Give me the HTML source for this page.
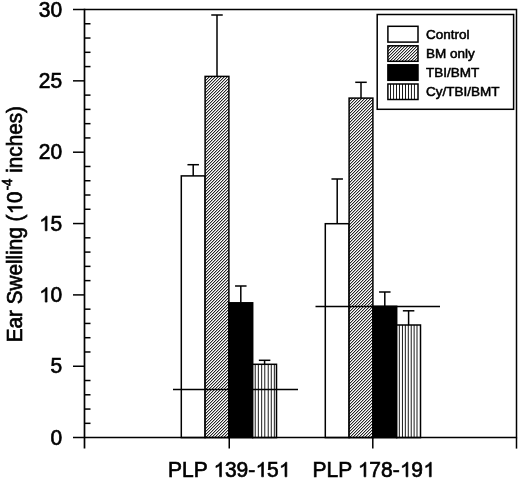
<!DOCTYPE html>
<html><head><meta charset="utf-8"><style>
html,body{margin:0;padding:0;background:#fff;}
svg{display:block;will-change:transform;}
text{font-family:"Liberation Sans",sans-serif;fill:#000;stroke:#000;stroke-width:0.65px;}
.tk{font-size:21px;}
.lg{font-size:13.5px;stroke-width:0.55px;}
.h1{fill:none;stroke:none;}
.p1{fill:#000;stroke:#000;stroke-width:0.65px;}
</style></head><body>
<svg width="520" height="480" viewBox="0 0 520 480">
<defs>
<pattern id="hp" patternUnits="userSpaceOnUse" x="0" y="0" width="3" height="3"><rect width="3" height="3" fill="#fff"/><path d="M0,0h1v1h-1zM2,1h1v1h-1zM1,2h1v1h-1z" fill="rgb(40,40,40)"/><path d="M1,0h1v1h-1zM0,1h1v1h-1zM2,2h1v1h-1z" fill="rgb(180,180,180)"/></pattern>
<clipPath id="c4"><rect x="252.70" y="364.30" width="23.80" height="73.30"/></clipPath><clipPath id="c8"><rect x="396.70" y="325.00" width="23.80" height="112.60"/></clipPath><clipPath id="c12"><rect x="387.90" y="84.00" width="30.10" height="15.50"/></clipPath>
</defs>
<path d="M193.20,175.9 V164.7" stroke="#000" stroke-width="1.5"/>
<path d="M187.45,164.7 H198.95" stroke="#000" stroke-width="1.5"/>
<rect x="181.30" y="175.9" width="23.8" height="261.70" fill="#fff"/>
<rect x="181.30" y="175.9" width="23.8" height="261.70" fill="none" stroke="#000" stroke-width="1.5"/>
<path d="M217.00,76.4 V15.0" stroke="#000" stroke-width="1.5"/>
<path d="M211.25,15.0 H222.75" stroke="#000" stroke-width="1.5"/>
<rect x="205.10" y="76.40" width="23.80" height="361.20" fill="url(#hp)"/>
<rect x="205.10" y="76.4" width="23.8" height="361.20" fill="none" stroke="#000" stroke-width="1.5"/>
<path d="M240.80,302.8 V286.0" stroke="#000" stroke-width="1.5"/>
<path d="M235.05,286.0 H246.55" stroke="#000" stroke-width="1.5"/>
<rect x="228.90" y="302.8" width="23.8" height="134.80" fill="#000"/>
<rect x="228.90" y="302.8" width="23.8" height="134.80" fill="none" stroke="#000" stroke-width="1.5"/>
<path d="M264.60,364.3 V360.3" stroke="#000" stroke-width="1.5"/>
<path d="M258.85,360.3 H270.35" stroke="#000" stroke-width="1.5"/>
<rect x="252.70" y="364.30" width="23.80" height="73.30" fill="#fff"/>
<path clip-path="url(#c4)" d="M254.75,364.30h0.9v73.30h-0.9ZM257.85,364.30h0.9v73.30h-0.9ZM261.25,364.30h0.9v73.30h-0.9ZM264.35,364.30h0.9v73.30h-0.9ZM267.75,364.30h0.9v73.30h-0.9ZM270.80,364.30h0.9v73.30h-0.9ZM273.85,364.30h0.9v73.30h-0.9Z" fill="#000"/>
<rect x="252.70" y="364.3" width="23.8" height="73.30" fill="none" stroke="#000" stroke-width="1.5"/>
<path d="M337.20,223.7 V179.0" stroke="#000" stroke-width="1.5"/>
<path d="M331.45,179.0 H342.95" stroke="#000" stroke-width="1.5"/>
<rect x="325.30" y="223.7" width="23.8" height="213.90" fill="#fff"/>
<rect x="325.30" y="223.7" width="23.8" height="213.90" fill="none" stroke="#000" stroke-width="1.5"/>
<path d="M361.00,98.1 V82.3" stroke="#000" stroke-width="1.5"/>
<path d="M355.25,82.3 H366.75" stroke="#000" stroke-width="1.5"/>
<rect x="349.10" y="98.10" width="23.80" height="339.50" fill="url(#hp)"/>
<rect x="349.10" y="98.1" width="23.8" height="339.50" fill="none" stroke="#000" stroke-width="1.5"/>
<path d="M384.80,306.3 V292.0" stroke="#000" stroke-width="1.5"/>
<path d="M379.05,292.0 H390.55" stroke="#000" stroke-width="1.5"/>
<rect x="372.90" y="306.3" width="23.8" height="131.30" fill="#000"/>
<rect x="372.90" y="306.3" width="23.8" height="131.30" fill="none" stroke="#000" stroke-width="1.5"/>
<path d="M408.60,325.0 V310.8" stroke="#000" stroke-width="1.5"/>
<path d="M402.85,310.8 H414.35" stroke="#000" stroke-width="1.5"/>
<rect x="396.70" y="325.00" width="23.80" height="112.60" fill="#fff"/>
<path clip-path="url(#c8)" d="M398.85,325.00h0.9v112.60h-0.9ZM401.95,325.00h0.9v112.60h-0.9ZM404.85,325.00h0.9v112.60h-0.9ZM407.80,325.00h0.9v112.60h-0.9ZM410.75,325.00h0.9v112.60h-0.9ZM413.65,325.00h0.9v112.60h-0.9ZM416.55,325.00h0.9v112.60h-0.9Z" fill="#000"/>
<rect x="396.70" y="325.0" width="23.8" height="112.60" fill="none" stroke="#000" stroke-width="1.5"/>
<path d="M173,389.5 H298" stroke="#000" stroke-width="1.5"/>
<path d="M315.5,306.5 H440" stroke="#000" stroke-width="1.5"/>
<path d="M73.0,9.5 H516.5 V437.6 H73.0" fill="none" stroke="#000" stroke-width="1.5"/>
<path d="M84.5,8.75 V448.6" fill="none" stroke="#000" stroke-width="1.7"/>
<path d="M73.0,366.25 H84.5" stroke="#000" stroke-width="1.5"/>
<path d="M73.0,294.90 H84.5" stroke="#000" stroke-width="1.5"/>
<path d="M73.0,223.55 H84.5" stroke="#000" stroke-width="1.5"/>
<path d="M73.0,152.20 H84.5" stroke="#000" stroke-width="1.5"/>
<path d="M73.0,80.85 H84.5" stroke="#000" stroke-width="1.5"/>
<path d="M84.5,423.33 H90.5" stroke="#000" stroke-width="1.5"/>
<path d="M84.5,409.06 H90.5" stroke="#000" stroke-width="1.5"/>
<path d="M84.5,394.79 H90.5" stroke="#000" stroke-width="1.5"/>
<path d="M84.5,380.52 H90.5" stroke="#000" stroke-width="1.5"/>
<path d="M84.5,351.98 H90.5" stroke="#000" stroke-width="1.5"/>
<path d="M84.5,337.71 H90.5" stroke="#000" stroke-width="1.5"/>
<path d="M84.5,323.44 H90.5" stroke="#000" stroke-width="1.5"/>
<path d="M84.5,309.17 H90.5" stroke="#000" stroke-width="1.5"/>
<path d="M84.5,280.63 H90.5" stroke="#000" stroke-width="1.5"/>
<path d="M84.5,266.36 H90.5" stroke="#000" stroke-width="1.5"/>
<path d="M84.5,252.09 H90.5" stroke="#000" stroke-width="1.5"/>
<path d="M84.5,237.82 H90.5" stroke="#000" stroke-width="1.5"/>
<path d="M84.5,209.28 H90.5" stroke="#000" stroke-width="1.5"/>
<path d="M84.5,195.01 H90.5" stroke="#000" stroke-width="1.5"/>
<path d="M84.5,180.74 H90.5" stroke="#000" stroke-width="1.5"/>
<path d="M84.5,166.47 H90.5" stroke="#000" stroke-width="1.5"/>
<path d="M84.5,137.93 H90.5" stroke="#000" stroke-width="1.5"/>
<path d="M84.5,123.66 H90.5" stroke="#000" stroke-width="1.5"/>
<path d="M84.5,109.39 H90.5" stroke="#000" stroke-width="1.5"/>
<path d="M84.5,95.12 H90.5" stroke="#000" stroke-width="1.5"/>
<path d="M84.5,66.58 H90.5" stroke="#000" stroke-width="1.5"/>
<path d="M84.5,52.31 H90.5" stroke="#000" stroke-width="1.5"/>
<path d="M84.5,38.04 H90.5" stroke="#000" stroke-width="1.5"/>
<path d="M84.5,23.77 H90.5" stroke="#000" stroke-width="1.5"/>
<path d="M229.25,437.6 V448.6" stroke="#000" stroke-width="1.5"/>
<path d="M372.8,437.6 V448.6" stroke="#000" stroke-width="1.5"/>
<path d="M516.5,437.6 V448.6" stroke="#000" stroke-width="1.5"/>
<rect x="377.2" y="14.5" width="136.4" height="94.8" fill="#fff" stroke="#000" stroke-width="1.5"/>
<rect x="387.90" y="26.3" width="30.1" height="15.80" fill="#fff"/>
<rect x="387.90" y="26.3" width="30.1" height="15.80" fill="none" stroke="#000" stroke-width="1.5"/>
<text x="426.0" y="38.8" class="lg">Control</text>
<rect x="387.90" y="45.80" width="30.10" height="15.50" fill="url(#hp)"/>
<rect x="387.90" y="45.8" width="30.1" height="15.50" fill="none" stroke="#000" stroke-width="1.5"/>
<text x="426.0" y="57.9" class="lg">BM only</text>
<rect x="387.90" y="64.8" width="30.1" height="15.50" fill="#000"/>
<rect x="387.90" y="64.8" width="30.1" height="15.50" fill="none" stroke="#000" stroke-width="1.5"/>
<text x="426.0" y="76.9" class="lg">TBI/BMT</text>
<rect x="387.90" y="84.00" width="30.10" height="15.50" fill="#fff"/>
<path clip-path="url(#c12)" d="M390.05,84.00h0.9v15.50h-0.9ZM393.15,84.00h0.9v15.50h-0.9ZM396.05,84.00h0.9v15.50h-0.9ZM399.05,84.00h0.9v15.50h-0.9ZM402.05,84.00h0.9v15.50h-0.9ZM405.05,84.00h0.9v15.50h-0.9ZM408.05,84.00h0.9v15.50h-0.9ZM410.95,84.00h0.9v15.50h-0.9ZM413.95,84.00h0.9v15.50h-0.9Z" fill="#000"/>
<rect x="387.90" y="84.0" width="30.1" height="15.50" fill="none" stroke="#000" stroke-width="1.5"/>
<text x="426.0" y="95.6" class="lg">Cy/TBI/BMT</text>
<g transform="translate(62.2,444.80) scale(1,1.01)"><text id="t1" class="tk" text-anchor="end">0</text></g>
<g transform="translate(62.2,373.45) scale(1,1.01)"><text id="t2" class="tk" text-anchor="end">5</text></g>
<g transform="translate(62.2,302.10) scale(1,1.01)"><text id="t3" class="tk" text-anchor="end"><tspan class="h1">1</tspan>0</text><path d="M-15.13,0.00L-16.97,0.00L-16.97,-11.26Q-17.64,-10.65 -18.72,-10.04Q-19.80,-9.43 -20.67,-9.13L-20.67,-10.84Q-19.12,-11.53 -17.96,-12.52Q-16.80,-13.52 -16.32,-14.45L-15.13,-14.45Z" class="p1"/></g>
<g transform="translate(62.2,230.75) scale(1,1.01)"><text id="t4" class="tk" text-anchor="end"><tspan class="h1">1</tspan>5</text><path d="M-15.13,0.00L-16.97,0.00L-16.97,-11.26Q-17.64,-10.65 -18.72,-10.04Q-19.80,-9.43 -20.67,-9.13L-20.67,-10.84Q-19.12,-11.53 -17.96,-12.52Q-16.80,-13.52 -16.32,-14.45L-15.13,-14.45Z" class="p1"/></g>
<g transform="translate(62.2,159.40) scale(1,1.01)"><text id="t5" class="tk" text-anchor="end">20</text></g>
<g transform="translate(62.2,88.05) scale(1,1.01)"><text id="t6" class="tk" text-anchor="end">25</text></g>
<g transform="translate(62.2,16.70) scale(1,1.01)"><text id="t7" class="tk" text-anchor="end">30</text></g>
<g transform="translate(229.2,476.8) scale(1,1.01)"><text id="t8" class="tk" text-anchor="middle">PLP <tspan class="h1">1</tspan>39-<tspan class="h1">1</tspan>5<tspan class="h1">1</tspan></text><path d="M-7.74,0.00L-9.58,0.00L-9.58,-11.26Q-10.25,-10.65 -11.33,-10.04Q-12.41,-9.43 -13.27,-9.13L-13.27,-10.84Q-11.72,-11.53 -10.57,-12.52Q-9.41,-13.52 -8.92,-14.45L-7.74,-14.45ZM34.29,0.00L32.44,0.00L32.44,-11.26Q31.78,-10.65 30.69,-10.04Q29.61,-9.43 28.75,-9.13L28.75,-10.84Q30.30,-11.53 31.46,-12.52Q32.62,-13.52 33.10,-14.45L34.29,-14.45ZM57.64,0.00L55.79,0.00L55.79,-11.26Q55.13,-10.65 54.05,-10.04Q52.96,-9.43 52.10,-9.13L52.10,-10.84Q53.65,-11.53 54.81,-12.52Q55.97,-13.52 56.45,-14.45L57.64,-14.45Z" class="p1"/></g>
<g transform="translate(373.6,476.8) scale(1,1.01)"><text id="t9" class="tk" text-anchor="middle">PLP <tspan class="h1">1</tspan>78-<tspan class="h1">1</tspan>9<tspan class="h1">1</tspan></text><path d="M-7.74,0.00L-9.58,0.00L-9.58,-11.26Q-10.25,-10.65 -11.33,-10.04Q-12.41,-9.43 -13.27,-9.13L-13.27,-10.84Q-11.72,-11.53 -10.57,-12.52Q-9.41,-13.52 -8.92,-14.45L-7.74,-14.45ZM34.29,0.00L32.44,0.00L32.44,-11.26Q31.78,-10.65 30.69,-10.04Q29.61,-9.43 28.75,-9.13L28.75,-10.84Q30.30,-11.53 31.46,-12.52Q32.62,-13.52 33.10,-14.45L34.29,-14.45ZM57.64,0.00L55.79,0.00L55.79,-11.26Q55.13,-10.65 54.05,-10.04Q52.96,-9.43 52.10,-9.13L52.10,-10.84Q53.65,-11.53 54.81,-12.52Q55.97,-13.52 56.45,-14.45L57.64,-14.45Z" class="p1"/></g>
<g transform="translate(22.4,342.2) rotate(-90) scale(0.986,1.03)"><text id="t10" class="tk" text-anchor="start">Ear Swelling (<tspan class="h1">1</tspan>0<tspan dy="-10.5" dx="1.2" font-size="13.5">-4</tspan><tspan dy="10.5"> inches)</tspan></text><path d="M137.67,0.00L135.83,0.00L135.83,-11.26Q135.16,-10.65 134.08,-10.04Q133.00,-9.43 132.14,-9.13L132.14,-10.84Q133.68,-11.53 134.84,-12.52Q136.00,-13.52 136.48,-14.45L137.67,-14.45Z" class="p1"/></g>
</svg>
</body></html>
